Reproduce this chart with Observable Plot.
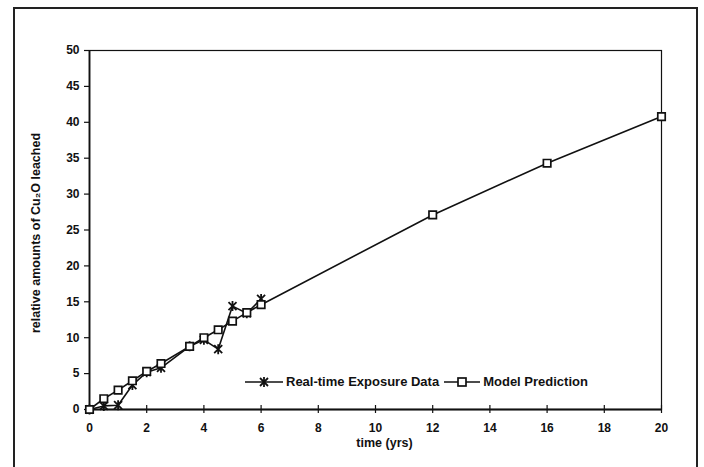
<!DOCTYPE html>
<html>
<head>
<meta charset="utf-8">
<script src="https://cdn.jsdelivr.net/npm/d3@7"></script>
<script src="https://cdn.jsdelivr.net/npm/@observablehq/plot@0.6"></script>
<style>
  html, body { margin: 0; padding: 0; background: #fff; }
  #wrap { position: relative; width: 704px; height: 467px; overflow: hidden; font-family: "Liberation Sans", Arial, sans-serif; font-weight: bold; }
  #border { position: absolute; left: 13px; top: 7px; width: 685px; height: 480px; border: 2px solid #222; box-sizing: border-box; pointer-events: none; }
  #legend { position: absolute; left: 245px; top: 374px; display: flex; align-items: center; font-size: 13px; color: #111; white-space: nowrap; }
  #legend .item { display: flex; align-items: center; margin-right: 5px; }
  #legend svg { margin-right: 3px; }
</style>
</head>
<body>
<div id="wrap">
  <div id="chart"></div>
  <div id="border"></div>
  <div id="legend"></div>
</div>
<script>
// Data
const realTimes = [0, 0.5, 1, 1.5, 2, 2.5, 3.5, 4, 4.5, 5, 5.5, 6];
const realValues = [0, 0.5, 0.6, 3.4, 5.2, 5.8, 8.8, 9.7, 8.4, 14.4, 13.4, 15.4];
const modelTimes = [0, 0.5, 1, 1.5, 2, 2.5, 3.5, 4, 4.5, 5, 5.5, 6, 12, 16, 20];
const modelValues = [0, 1.5, 2.7, 4.0, 5.3, 6.4, 8.8, 10.0, 11.1, 12.3, 13.5, 14.6, 27.1, 34.3, 40.8];
const xTicks = [0, 2, 4, 6, 8, 10, 12, 14, 16, 18, 20];
const yTicks = [0, 5, 10, 15, 20, 25, 30, 35, 40, 45, 50];
const seriesNames = ["Real-time Exposure Data", "Model Prediction"];
const xLabel = "time (yrs)";
const yLabel = "relative amounts of Cu₂O leached";

const real = realTimes.map((t, i) => ({t, v: realValues[i]}));
const model = modelTimes.map((t, i) => ({t, v: modelValues[i]}));

// Excel-style star: X plus vertical bar
const star = {
  draw(context, size) {
    const r = Math.sqrt(size / Math.PI);
    const d = r * 0.8;
    context.moveTo(0, -r); context.lineTo(0, r);
    context.moveTo(-d, -d); context.lineTo(d, d);
    context.moveTo(-d, d); context.lineTo(d, -d);
  }
};

const fontFamily = "Liberation Sans, Arial, sans-serif";

const chart = Plot.plot({
  width: 704,
  height: 467,
  marginLeft: 89,
  marginRight: 43,
  marginTop: 50,
  marginBottom: 58,
  style: {fontFamily, fontWeight: "bold", fontSize: "12px", color: "#111", background: "transparent"},
  x: {domain: [0, 20]},
  y: {domain: [0, 50]},
  marks: [
    Plot.frame({stroke: "#111", strokeWidth: 1.2}),
    Plot.axisY({ticks: yTicks, tickSize: 5, tickPadding: 5, label: null, stroke: "#111", strokeWidth: 1.2, fontSize: 12}),
    Plot.axisX({ticks: xTicks, tickSize: 4, tickPadding: 10, label: null, stroke: "#111", strokeWidth: 1.2, fontSize: 12}),
    Plot.axisX({ticks: xTicks, tickSize: -4, tickFormat: () => "", label: null, stroke: "#111", strokeWidth: 1.2}),
    Plot.ruleX([0], {stroke: "#111", strokeWidth: 1.8}),
    Plot.ruleY([0], {stroke: "#111", strokeWidth: 1.8}),
    Plot.text([xLabel], {frameAnchor: "bottom", text: d => d, dx: 9, dy: 37, fontSize: 12.5, fontWeight: "bold", fill: "#111"}),
    Plot.text([yLabel], {frameAnchor: "left", text: d => d, rotate: -90, textAnchor: "middle", dx: -54, dy: 3, fontSize: 12.5, fontWeight: "bold", fill: "#111"}),
    Plot.line(real, {x: "t", y: "v", stroke: "#111", strokeWidth: 1.6}),
    Plot.dot(real, {x: "t", y: "v", symbol: star, r: 5, stroke: "#111", strokeWidth: 1.8}),
    Plot.line(model, {x: "t", y: "v", stroke: "#111", strokeWidth: 1.6}),
    Plot.dot(model, {x: "t", y: "v", symbol: "square", r: 4.2, fill: "white", stroke: "#111", strokeWidth: 1.7})
  ]
});
document.getElementById("chart").appendChild(chart);

// Legend
const legend = document.getElementById("legend");
const glyphs = [
  '<svg width="38" height="12"><line x1="0" y1="6" x2="38" y2="6" stroke="#111" stroke-width="1.6"/><g stroke="#111" stroke-width="1.8"><line x1="19" y1="1" x2="19" y2="11"/><line x1="15" y1="2" x2="23" y2="10"/><line x1="15" y1="10" x2="23" y2="2"/></g></svg>',
  '<svg width="36" height="12"><line x1="0" y1="6" x2="36" y2="6" stroke="#111" stroke-width="1.6"/><rect x="14" y="2" width="8" height="8" fill="white" stroke="#111" stroke-width="1.7"/></svg>'
];
seriesNames.forEach((name, i) => {
  const item = document.createElement("div");
  item.className = "item";
  item.innerHTML = glyphs[i] + "<span>" + name + "</span>";
  legend.appendChild(item);
});
</script>
</body>
</html>
